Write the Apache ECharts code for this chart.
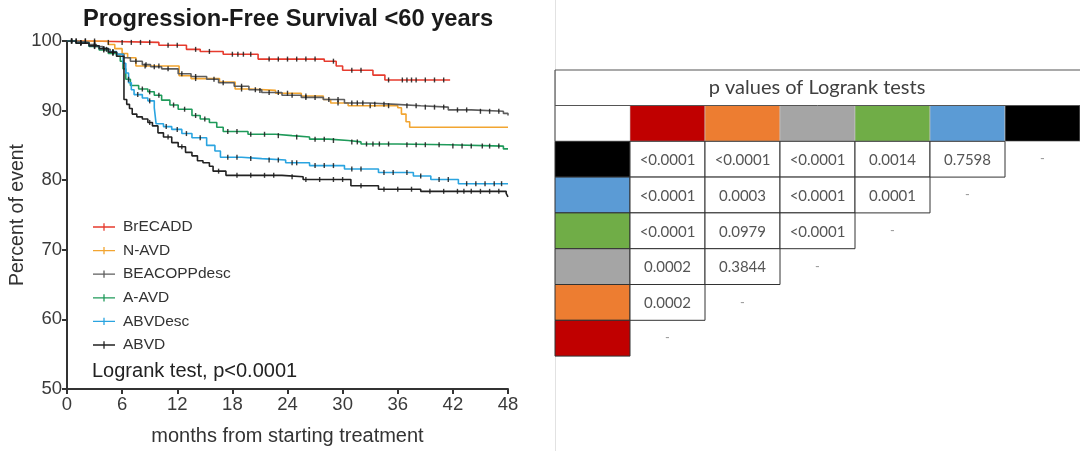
<!DOCTYPE html>
<html>
<head>
<meta charset="utf-8">
<script src="https://cdn.jsdelivr.net/npm/echarts@6.0.0/dist/echarts.min.js"></script>
<style>
  html, body { margin: 0; padding: 0; background: #fff; }
  #main { width: 1080px; height: 451px; }
</style>
</head>
<body>
<div id="main"></div>
<script>
// Kaplan-Meier steps (months, percent)
const groupNames = ['BrECADD', 'N-AVD', 'BEACOPPdesc', 'A-AVD', 'ABVDesc', 'ABVD'];
const groupColors = ['#e63b2e', '#f2a531', '#5e5e5e', '#1f9a5a', '#2aa4e0', '#222222'];

const brecaddT = [0, 2.5, 10, 13, 14.5, 17, 20.8, 28, 29.3, 30, 33.3, 34.6, 41.7];
const brecaddS = [100, 99.8, 99.4, 98.8, 98.5, 98.1, 97.4, 97.1, 96.4, 95.8, 95.1, 94.4, 94.4];

const navdT = [0, 4.5, 5.2, 6.0, 6.6, 7.5, 12.2, 13.5, 16.6, 18.3, 20, 22.7, 25.5, 27.9, 28.7, 30.6, 36.0, 36.4, 36.9, 37.3, 48];
const navdS = [100, 99.5, 98.9, 98.2, 97.6, 96.4, 95.0, 94.6, 94.1, 93.1, 92.9, 92.5, 92.1, 91.6, 91.1, 90.7, 90.4, 89.5, 88.4, 87.6, 87.6];

const beacoppT = [0, 1, 2.4, 3.2, 3.9, 4.7, 5.4, 6.2, 6.9, 8.2, 9.1, 10.3, 12.1, 13.5, 15.2, 16.5, 18.2, 19.8, 21.2, 23.4, 25.5, 27.9, 30.2, 33, 35.8, 38.5, 41.5, 44, 47.5, 48];
const beacoppS = [100, 99.8, 99.5, 99.2, 98.8, 98.4, 98.1, 97.6, 97.1, 96.6, 96.3, 96.0, 95.3, 94.9, 94.5, 94.0, 93.5, 93.0, 92.6, 92.2, 91.9, 91.6, 91.1, 90.9, 90.7, 90.5, 90.1, 89.9, 89.6, 89.3];

const aavdT = [0, 1, 2.4, 3.5, 4.5, 5.4, 5.8, 6.1, 6.4, 6.9, 7.8, 8.8, 9.5, 10.3, 11.2, 12.1, 13.6, 14.5, 15.5, 16.3, 17, 19.7, 22.7, 24.5, 26.4, 28.5, 30.6, 32, 36, 41.5, 47.5, 48];
const aavdS = [100, 99.7, 99.2, 98.7, 98.2, 97.8, 97.1, 96.0, 94.5, 93.6, 93.1, 92.7, 92.2, 91.5, 90.8, 90.2, 89.3, 88.8, 88.3, 87.6, 87.0, 86.6, 86.4, 86.2, 85.9, 85.7, 85.5, 85.2, 85.1, 84.9, 84.5, 84.4];

const abvdescT = [0, 1, 2.4, 3.5, 4.5, 5.4, 6.1, 6.4, 6.7, 7.0, 7.3, 8.2, 8.8, 9.5, 9.7, 10.5, 11.4, 12.5, 13.6, 15.2, 16.1, 16.7, 19, 21.2, 23.8, 26.4, 30.2, 33.9, 37.7, 39.6, 42.6, 48];
const abvdescS = [100, 99.7, 99.3, 98.9, 98.5, 98.1, 96.8, 95.4, 94.0, 93.0, 92.3, 91.8, 91.4, 90.4, 88.1, 87.7, 87.3, 86.7, 86.1, 85.0, 84.2, 83.3, 83.1, 82.9, 82.5, 82.1, 81.6, 81.1, 80.6, 80.1, 79.5, 79.5];

const abvdT = [0, 1, 2.4, 3.5, 4.5, 5.4, 6.2, 6.5, 6.8, 7.1, 7.6, 8.2, 8.8, 9.3, 9.9, 10.5, 11.4, 12.1, 12.9, 13.6, 14.2, 14.8, 15.5, 15.9, 17.3, 23.4, 25.7, 30.9, 33.9, 38.5, 47.8, 48];
const abvdS = [100, 99.7, 99.3, 98.9, 98.4, 97.8, 91.6, 90.9, 90.3, 89.5, 89.1, 88.8, 88.3, 87.8, 86.8, 86.2, 85.4, 84.8, 84.0, 83.5, 82.8, 82.5, 82.0, 81.3, 80.7, 80.5, 80.1, 79.2, 78.7, 78.4, 78.1, 77.6];

// censoring times (months)
const brecaddCens = [1, 2, 3, 4.5, 6, 7, 8, 9, 11, 12, 14, 15.5, 18, 18.6, 19.2, 20, 22, 23, 24, 25, 26, 27, 29, 31, 32, 35, 36.5, 37, 37.5, 38, 39, 40, 41];
const navdCens = [1, 2, 3, 8.5, 10, 14, 19, 21, 24, 26, 29.5, 33, 35];
const beacoppCens = [0.5, 1.5, 3, 4.3, 5, 7.5, 8.6, 9.5, 11, 12.5, 14, 16, 17, 19, 20.5, 22, 23, 24.5, 26, 27, 28.5, 29.5, 31, 31.6, 32.2, 33.5, 34.5, 37, 38, 39, 40, 41, 42.5, 43.5, 45, 46, 47];
const aavdCens = [0.5, 1.5, 3, 4, 5, 6.7, 8.2, 9, 10, 11.6, 12.8, 14, 15, 17.5, 18.5, 20, 21.5, 23, 25, 27, 28, 29, 31, 31.6, 32.6, 33.3, 34, 35, 37, 38, 39, 40.5, 42, 43, 44, 45.2, 46, 47];
const abvdescCens = [0.5, 1.5, 3, 4, 5, 7.7, 9, 10.8, 12, 13, 14.5, 17.5, 18.5, 20, 22, 23, 24.5, 25, 27, 28, 29, 31, 32, 34.5, 35.5, 37, 38.5, 40.5, 41.5, 43.5, 44.5, 45.5, 46.5, 47.3];
const abvdCens = [0.5, 1.5, 3, 4, 5, 9, 11, 12.5, 16.5, 18.5, 20, 21.5, 22.5, 24.5, 26, 27.5, 29, 30, 32, 34.5, 36, 37.5, 39.5, 41, 42.5, 43.2, 44, 45, 46, 47];

const stepTimes = [brecaddT, navdT, beacoppT, aavdT, abvdescT, abvdT];
const stepValues = [brecaddS, navdS, beacoppS, aavdS, abvdescS, abvdS];
const censorTimes = [brecaddCens, navdCens, beacoppCens, aavdCens, abvdescCens, abvdCens];

// Logrank p-value table
const tableTitle = 'p values of Logrank tests';
const headerColors = ['#ffffff', '#C00000', '#ED7D31', '#A5A5A5', '#70AD47', '#5B9BD5', '#000000'];
const rowColors = ['#000000', '#5B9BD5', '#70AD47', '#A5A5A5', '#ED7D31', '#C00000'];
const pRows = [
  ['<0.0001', '<0.0001', '<0.0001', '0.0014', '0.7598'],
  ['<0.0001', '0.0003', '<0.0001', '0.0001'],
  ['<0.0001', '0.0979', '<0.0001'],
  ['0.0002', '0.3844'],
  ['0.0002'],
  []
];

const FONT = '"Liberation Sans", Arial, sans-serif';
const TFONT = 'Lato, "Open Sans", sans-serif';

function valueAt(ts, ss, t) {
  let v = ss[0];
  for (let i = 0; i < ts.length; i++) {
    if (ts[i] <= t) v = ss[i];
  }
  return v;
}

const series = [];
groupNames.forEach((name, i) => {
  series.push({
    name: name,
    type: 'line',
    step: 'end',
    showSymbol: false,
    silent: true,
    data: stepTimes[i].map((t, k) => [t, stepValues[i][k]]),
    lineStyle: { color: groupColors[i], width: 1.6 },
    itemStyle: { color: groupColors[i] },
    z: 2 + i
  });
});
groupNames.forEach((name, i) => {
  series.push({
    name: name + ' censored',
    type: 'scatter',
    silent: true,
    symbol: 'rect',
    symbolSize: [1.4, 5],
    data: censorTimes[i].map(t => [t, valueAt(stepTimes[i], stepValues[i], t)]),
    itemStyle: { color: '#1a1a1a', opacity: 0.85 },
    z: 10
  });
});

// table graphics
const tX = 555, colW = 75, tTop = 70, titleBottom = 105.5, rowH = 35.8;
const tRight = 1080;
const graphics = [];

graphics.push({
  type: 'line', silent: true,
  shape: { x1: 555.5, y1: 0, x2: 555.5, y2: 451 },
  style: { stroke: '#e2e2e2', lineWidth: 1 }
});
graphics.push({
  type: 'text', silent: true,
  style: { x: 288, y: 19, text: 'Progression-Free Survival <60 years', align: 'center', verticalAlign: 'middle',
    fontFamily: FONT, fontWeight: 'bold', fontSize: 23.7, fill: '#1a1a1a' }
});
graphics.push({
  type: 'text', silent: true,
  style: { x: 92, y: 371, text: 'Logrank test, p<0.0001', align: 'left', verticalAlign: 'middle',
    fontFamily: FONT, fontSize: 20, fill: '#222' }
});

// header row
headerColors.forEach((c, j) => {
  graphics.push({
    type: 'rect', silent: true,
    shape: { x: tX + j * colW, y: titleBottom, width: colW, height: rowH },
    style: { fill: c, stroke: j === 0 ? null : '#c8c8c8', lineWidth: 0.6 }
  });
});
// body rows
pRows.forEach((vals, r) => {
  const y = titleBottom + rowH * (r + 1);
  graphics.push({
    type: 'rect', silent: true,
    shape: { x: tX, y: y, width: colW, height: rowH },
    style: { fill: rowColors[r], stroke: '#333', lineWidth: 1 }
  });
  vals.forEach((v, j) => {
    const x = tX + colW * (j + 1);
    graphics.push({
      type: 'rect', silent: true,
      shape: { x: x, y: y, width: colW, height: rowH },
      style: { fill: '#fff', stroke: '#333', lineWidth: 1 }
    });
    graphics.push({
      type: 'text', silent: true,
      style: { x: x + colW / 2, y: y + rowH / 2 + 1, text: v, align: 'center', verticalAlign: 'middle',
        fontFamily: TFONT, fontSize: 15, fill: '#555' }
    });
  });
  const dx = tX + colW * (vals.length + 1);
  graphics.push({
    type: 'text', silent: true,
    style: { x: dx + colW / 2, y: y + rowH / 2, text: '-', align: 'center', verticalAlign: 'middle',
      fontFamily: TFONT, fontSize: 13, fill: '#999' }
  });
});
// title row borders
graphics.push({
  type: 'line', silent: true,
  shape: { x1: tX, y1: tTop, x2: tRight, y2: tTop },
  style: { stroke: '#555', lineWidth: 1.2 }
});
graphics.push({
  type: 'line', silent: true,
  shape: { x1: tX, y1: titleBottom, x2: tRight, y2: titleBottom },
  style: { stroke: '#555', lineWidth: 1 }
});
graphics.push({
  type: 'line', silent: true,
  shape: { x1: tX, y1: tTop, x2: tX, y2: titleBottom + rowH },
  style: { stroke: '#555', lineWidth: 1.2 }
});
graphics.push({
  type: 'text', silent: true,
  style: { x: 817, y: 88, text: tableTitle, align: 'center', verticalAlign: 'middle',
    fontFamily: TFONT, fontSize: 20, fill: '#404040' }
});

const axisCommon = {
  axisLine: { show: true, lineStyle: { color: '#333', width: 2 } },
  axisTick: { show: true, length: 5, lineStyle: { color: '#333', width: 2 } },
  splitLine: { show: false }
};

const chart = echarts.init(document.getElementById('main'));
chart.setOption({
  animation: false,
  backgroundColor: '#fff',
  grid: { left: 67, right: 572, top: 41, bottom: 60 },
  xAxis: Object.assign({
    type: 'value', min: 0, max: 48, interval: 6,
    name: 'months from starting treatment', nameLocation: 'middle', nameGap: 37,
    nameTextStyle: { fontFamily: FONT, fontSize: 20, color: '#333' },
    axisLabel: { fontFamily: FONT, fontSize: 18.5, color: '#3a3a3a', margin: 6 }
  }, axisCommon),
  yAxis: Object.assign({
    type: 'value', min: 50, max: 100, interval: 10,
    name: 'Percent of event', nameLocation: 'middle', nameGap: 39, nameRotate: 90,
    nameTextStyle: { fontFamily: FONT, fontSize: 19.5, color: '#333' },
    axisLabel: { fontFamily: FONT, fontSize: 18.5, color: '#3a3a3a', margin: 5 }
  }, axisCommon),
  legend: {
    data: groupNames,
    orient: 'vertical',
    left: 93, top: 219, padding: 0,
    itemWidth: 22, itemHeight: 8, itemGap: 7.6,
    icon: 'path://M0,3.3h24v1.4h-24z M11.3,0h1.4v8h-1.4z',
    selectedMode: false,
    textStyle: { fontFamily: FONT, fontSize: 15.5, color: '#333', lineHeight: 15.5, padding: [0, 0, 0, 3] }
  },
  series: series,
  graphic: graphics
});
</script>
</body>
</html>
